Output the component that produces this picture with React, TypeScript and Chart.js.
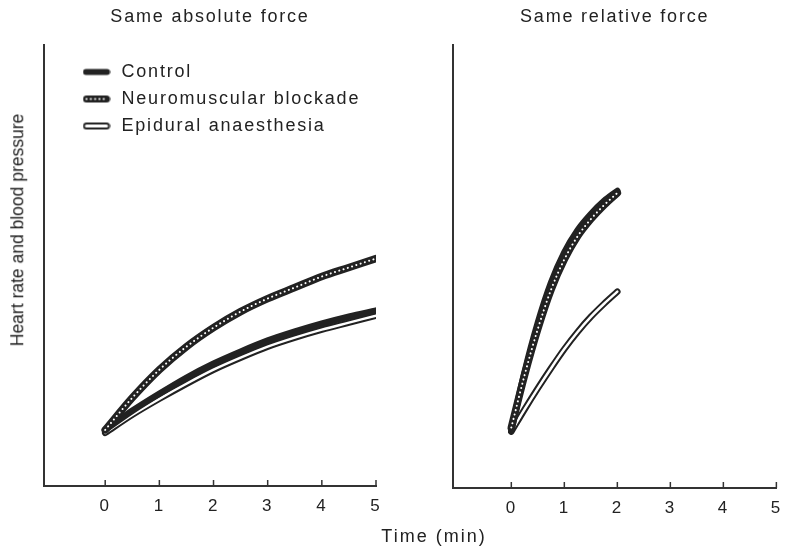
import React, { useEffect, useRef } from "react";
import { Chart, registerables } from "chart.js";

Chart.register(...registerables);

// ---- data ----
const xTicks = [0, 1, 2, 3, 4, 5];
const seriesNames = ["Control", "Neuromuscular blockade", "Epidural anaesthesia"];
const panelTitles = ["Same absolute force", "Same relative force"];
const xTitle = "Time (min)";
const yTitle = "Heart rate and blood pressure";

// Same absolute force (arbitrary units, axis has no scale)
const absTime = [0, 0.5, 1, 1.5, 2, 2.5, 3, 3.5, 4, 4.5, 5];
const absControl = [56, 75, 92, 108, 122, 134, 145, 154, 162, 169, 175];
const absBlockade = [56, 88, 116, 139, 158, 174, 187, 198, 209, 218, 227];
const absEpidural = [53, 71, 87, 102, 116, 128, 139, 148, 156, 163, 170];

// Same relative force
const relTime = [0, 0.25, 0.5, 0.75, 1, 1.25, 1.5, 1.75, 2];
const relControl = [57, 115, 164, 204, 234, 256, 272, 285, 295];
const relBlockade = [60, 112, 158, 197, 227, 250, 267, 281, 293];
const relEpidural = [56, 78, 99, 119, 138, 155, 170, 183, 195];

const INK = "#222222";
const AXIS = "#333333";
const FONT = "'Liberation Sans', Arial, Helvetica, sans-serif";
const NARROW = "'Liberation Sans Narrow', 'Liberation Sans', Arial, sans-serif";

function pts(xs: number[], ys: number[]) {
  return xs.map((x, i) => ({ x, y: ys[i] }));
}

function makeDatasets(time: number[], control: number[], blockade: number[], epidural: number[]) {
  const base = {
    pointRadius: 0,
    pointHoverRadius: 0,
    cubicInterpolationMode: "monotone" as const,
    fill: false,
    backgroundColor: "transparent",
    borderCapStyle: "round" as const,
    borderJoinStyle: "round" as const,
  };
  return [
    { ...base, label: "blockade-dots", data: pts(time, blockade), borderColor: "#ffffff", borderWidth: 2, borderDash: [0.1, 4.4], order: 1 },
    { ...base, label: seriesNames[1], data: pts(time, blockade), borderColor: INK, borderWidth: 7.5, order: 2 },
    { ...base, label: seriesNames[0], data: pts(time, control), borderColor: INK, borderWidth: 6.5, order: 3 },
    { ...base, label: "epidural-inner", data: pts(time, epidural), borderColor: "#ffffff", borderWidth: 2.5, order: 4 },
    { ...base, label: seriesNames[2], data: pts(time, epidural), borderColor: INK, borderWidth: 6.5, order: 5 },
  ];
}

function makeMarker(kind: number) {
  const c = document.createElement("canvas");
  c.width = 28;
  c.height = 9;
  const g = c.getContext("2d")!;
  g.lineCap = "round";
  const seg = (a: number, b: number) => {
    g.beginPath();
    g.moveTo(a, 4.5);
    g.lineTo(b, 4.5);
    g.stroke();
  };
  if (kind === 0) {
    g.strokeStyle = INK;
    g.lineWidth = 6;
    seg(3.5, 24.5);
  } else if (kind === 1) {
    g.strokeStyle = INK;
    g.lineWidth = 7;
    seg(4, 24);
    g.strokeStyle = "#fff";
    g.lineWidth = 2;
    g.setLineDash([0.1, 4.2]);
    seg(4, 24);
  } else {
    g.strokeStyle = INK;
    g.lineWidth = 7;
    seg(4, 24);
    g.strokeStyle = "#fff";
    g.lineWidth = 3.2;
    seg(4, 24);
  }
  return c;
}

const spacingPlugin = {
  id: "letterSpacing",
  beforeUpdate(chart: any) {
    (chart.ctx as any).letterSpacing = "1.8px";
  },
  beforeDraw(chart: any) {
    (chart.ctx as any).letterSpacing = "1.8px";
  },
};

const tickMarksPlugin = {
  id: "tickMarks",
  afterDraw(chart: any) {
    const s = chart.scales.x;
    const ctx = chart.ctx;
    ctx.save();
    ctx.strokeStyle = AXIS;
    ctx.lineWidth = 1.5;
    s.ticks.forEach((t: any) => {
      const x = s.getPixelForValue(t.value);
      ctx.beginPath();
      ctx.moveTo(x, s.top);
      ctx.lineTo(x, s.top - 6);
      ctx.stroke();
    });
    ctx.restore();
  },
};

const legendPlacePlugin = {
  id: "legendPlace",
  afterLayout(chart: any) {
    const pos = chart.options.plugins.legendPlace;
    if (chart.legend && pos && pos.enabled) {
      chart.legend.left = pos.left;
      chart.legend.top = pos.top;
    }
  },
};

type PanelProps = {
  width: number;
  left: number;
  title: string;
  xMin: number;
  padLeft: number;
  padRight: number;
  bottom: number;
  showLegend: boolean;
  datasets: any[];
};

function Panel(p: PanelProps) {
  const ref = useRef<HTMLCanvasElement | null>(null);
  useEffect(() => {
    if (!ref.current) return;
    const markers = [makeMarker(0), makeMarker(1), makeMarker(2)];
    const H = 549;
    const chart = new Chart(ref.current, {
      type: "line",
      data: { datasets: p.datasets },
      plugins: [spacingPlugin, tickMarksPlugin, legendPlacePlugin],
      options: {
        animation: false,
        responsive: false,
        devicePixelRatio: 1,
        events: [],
        layout: { padding: { left: p.padLeft, right: p.padRight, top: 0, bottom: 0 } },
        plugins: {
          tooltip: { enabled: false },
          title: {
            display: true,
            text: p.title,
            fullSize: false,
            align: "center",
            color: INK,
            font: { family: FONT, size: 18, weight: "normal" },
            padding: { top: 6, bottom: 17.4 },
          },
          legend: {
            display: p.showLegend,
            position: "chartArea",
            align: "start",
            labels: {
              usePointStyle: true,
              pointStyleWidth: 32,
              boxHeight: 8,
              padding: 9,
              color: INK,
              font: { family: FONT, size: 18 },
              generateLabels: () =>
                seriesNames.map((t, i) => ({
                  text: t,
                  pointStyle: markers[i],
                  fillStyle: INK,
                  strokeStyle: INK,
                  lineWidth: 0,
                  hidden: false,
                  fontColor: INK,
                })),
            },
          },
          legendPlace: { enabled: p.showLegend, left: 71.5, top: 54 },
        } as any,
        scales: {
          x: {
            type: "linear",
            min: p.xMin,
            max: 5,
            afterBuildTicks: (s: any) => {
              s.ticks = xTicks.map((v) => ({ value: v }));
            },
            afterFit: (s: any) => {
              s.height = H - p.bottom;
            },
            grid: { display: true, drawOnChartArea: false, drawTicks: false },
            border: { display: true, color: AXIS, width: 2 },
            ticks: {
              padding: 10,
              color: INK,
              maxRotation: 0,
              autoSkip: false,
              font: { family: NARROW, size: 17 },
            },
          },
          y: {
            type: "linear",
            min: 0,
            max: 440,
            afterFit: (s: any) => {
              s.width = 0;
            },
            ticks: { display: false },
            grid: { display: true, drawOnChartArea: false, drawTicks: false },
            border: { display: true, color: AXIS, width: 2 },
          },
        },
      } as any,
    });
    return () => chart.destroy();
  }, []);
  return (
    <canvas
      ref={ref}
      width={p.width}
      height={549}
      style={{ position: "absolute", left: p.left, top: 0, width: p.width, height: 549 }}
    />
  );
}

export default function App() {
  return (
    <div
      style={{
        position: "fixed",
        left: 0,
        top: 0,
        width: 792,
        height: 549,
        background: "#ffffff",
        overflow: "hidden",
      }}
    >
      <Panel
        width={400}
        left={0}
        title={panelTitles[0]}
        xMin={-1.13}
        padLeft={44}
        padRight={24}
        bottom={486}
        showLegend={true}
        datasets={makeDatasets(absTime, absControl, absBlockade, absEpidural)}
      />
      <Panel
        width={392}
        left={400}
        title={panelTitles[1]}
        xMin={-1.1}
        padLeft={53}
        padRight={6}
        bottom={488}
        showLegend={false}
        datasets={makeDatasets(relTime, relControl, relBlockade, relEpidural)}
      />
      <div
        style={{
          position: "absolute",
          left: 18,
          top: 230,
          transform: "translate(-50%, -50%) rotate(-90deg)",
          whiteSpace: "nowrap",
          fontFamily: FONT,
          fontSize: 17.5,
          color: INK,
          lineHeight: 1,
        }}
      >
        {yTitle}
      </div>
      <div
        style={{
          position: "absolute",
          left: 434,
          top: 536,
          transform: "translate(-50%, -50%)",
          whiteSpace: "nowrap",
          fontFamily: FONT,
          fontSize: 18,
          letterSpacing: "2px",
          color: INK,
          lineHeight: 1,
        }}
      >
        {xTitle}
      </div>
    </div>
  );
}
